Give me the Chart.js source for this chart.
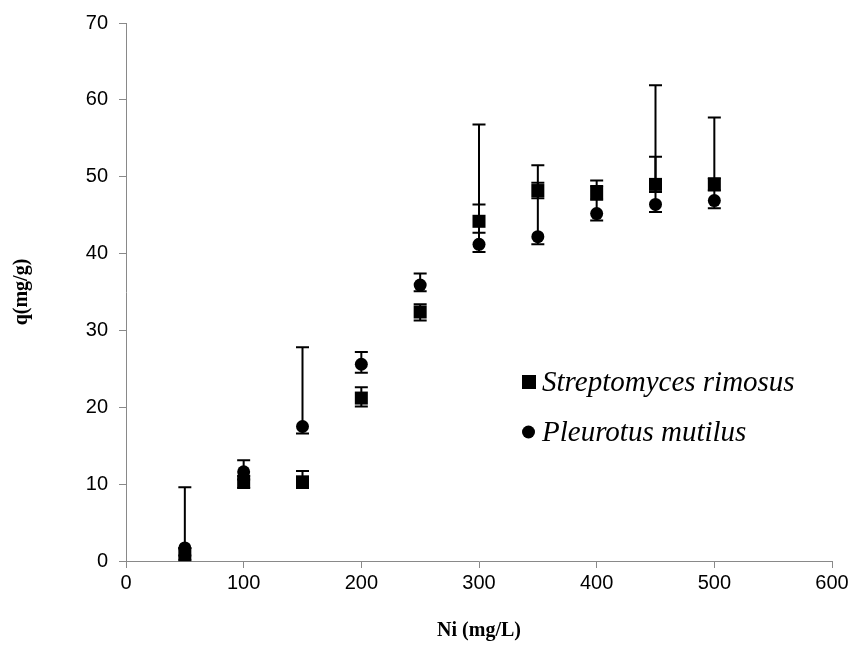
<!DOCTYPE html>
<html>
<head>
<meta charset="utf-8">
<script src="https://cdn.jsdelivr.net/npm/chart.js@4"></script>
<style>
  body { margin: 0; background: #fff; }
  #wrap { width: 858px; height: 648px; }
</style>
</head>
<body>
<div id="wrap"><canvas id="myChart" width="858" height="648"></canvas></div>
<script>
// Ni concentration (mg/L)
const niConc = [50, 100, 150, 200, 250, 300, 350, 400, 450, 500];

// q (mg/g) for each biomass
const strepQ = [0.9, 10.3, 10.3, 21.2, 32.4, 44.2, 48.2, 47.9, 49.0, 49.0];
const pleuQ  = [1.7, 11.6, 17.5, 25.6, 35.9, 41.2, 42.2, 45.2, 46.4, 46.9];

// error bars (plus / minus)
const strepPlus  = [0.8, 0.8, 1.4, 1.4, 1.0, 2.2, 1.0, 0.9, 3.6, 0.8];
const strepMinus = [0.8, 0.8, 0.8, 1.1, 1.1, 1.5, 1.0, 0.9, 1.0, 0.8];
const pleuPlus   = [7.9, 1.5, 10.3, 1.6, 1.5, 15.6, 9.3, 4.3, 15.5, 10.8];
const pleuMinus  = [1.0, 1.0, 0.9, 1.1, 0.8, 1.0, 1.0, 0.9, 1.0, 1.0];

const seriesNames = ['Streptomyces rimosus', 'Pleurotus mutilus'];
const xTicks = [0, 100, 200, 300, 400, 500, 600];
const yTicks = [0, 10, 20, 30, 40, 50, 60, 70];

const axisGrey = '#898989';

const errorBars = {
  id: 'errorBars',
  beforeDatasetsDraw(chart) {
    const { ctx, scales: { x, y } } = chart;
    ctx.save();
    ctx.strokeStyle = '#000';
    ctx.lineWidth = 2;
    chart.data.datasets.forEach(ds => {
      ds.data.forEach((p, i) => {
        const px = x.getPixelForValue(p.x);
        const top = y.getPixelForValue(p.y + ds.errPlus[i]);
        const bot = y.getPixelForValue(p.y - ds.errMinus[i]);
        ctx.beginPath();
        ctx.moveTo(px, top); ctx.lineTo(px, bot);
        ctx.moveTo(px - 6.5, top); ctx.lineTo(px + 6.5, top);
        ctx.moveTo(px - 6.5, bot); ctx.lineTo(px + 6.5, bot);
        ctx.stroke();
      });
    });
    ctx.restore();
  }
};

// legend drawn inside the plot, like the original
const insideLegend = {
  id: 'insideLegend',
  afterDraw(chart) {
    const { ctx } = chart;
    ctx.save();
    ctx.fillStyle = '#000';
    ctx.font = 'italic 29px "Liberation Serif", "Times New Roman", serif';
    ctx.textBaseline = 'alphabetic';
    const rows = [382, 432];
    chart.data.datasets.forEach((ds, i) => {
      const cy = rows[i];
      if (ds.pointStyle === 'rect') {
        ctx.fillRect(522, cy - 7, 14, 14);
      } else {
        ctx.beginPath();
        ctx.arc(528.5, cy, 6.5, 0, Math.PI * 2);
        ctx.fill();
      }
      ctx.fillText(ds.label, 542, cy + 9);
    });
    ctx.restore();
  }
};

const data = {
  datasets: [
    {
      label: seriesNames[0],
      data: niConc.map((v, i) => ({ x: v, y: strepQ[i] })),
      errPlus: strepPlus,
      errMinus: strepMinus,
      pointStyle: 'rect',
      pointRadius: 9.2,
      backgroundColor: '#000',
      borderWidth: 0,
      showLine: false,
    },
    {
      label: seriesNames[1],
      data: niConc.map((v, i) => ({ x: v, y: pleuQ[i] })),
      errPlus: pleuPlus,
      errMinus: pleuMinus,
      pointStyle: 'circle',
      pointRadius: 6.5,
      backgroundColor: '#000',
      borderWidth: 0,
      showLine: false,
    }
  ]
};

const tickFont = { family: '"Liberation Sans", Arial, sans-serif', size: 20 };
const titleFont = { family: '"Liberation Serif", "Times New Roman", serif', size: 20, weight: 'bold' };

const config = {
  type: 'scatter',
  data: data,
  options: {
    responsive: false,
    animation: false,
    layout: { padding: { left: 0, right: 26, top: 19, bottom: 0 } },
    plugins: {
      legend: { display: false },
      tooltip: { enabled: false },
    },
    scales: {
      x: {
        type: 'linear',
        min: 0, max: 600,
        afterBuildTicks: s => { s.ticks = xTicks.map(v => ({ value: v })); },
        afterFit: s => { s.height = 87; },
        grid: { drawOnChartArea: false, drawTicks: true, tickLength: 7, color: axisGrey },
        border: { color: axisGrey, width: 1 },
        ticks: { color: '#000', font: tickFont, padding: 3 },
        title: { display: true, text: 'Ni (mg/L)', color: '#000', font: titleFont, padding: { top: 0, bottom: 5 } },
      },
      y: {
        type: 'linear',
        min: 0, max: 70,
        afterBuildTicks: s => { s.ticks = yTicks.map(v => ({ value: v })); },
        afterFit: s => { s.width = 126; },
        grid: { drawOnChartArea: false, drawTicks: true, tickLength: 7, color: axisGrey },
        border: { color: axisGrey, width: 1 },
        ticks: { color: '#000', font: tickFont, padding: 11 },
        title: { display: true, text: 'q(mg/g)', color: '#000', font: titleFont, padding: { top: 10, bottom: 0 } },
      }
    }
  },
  plugins: [errorBars, insideLegend]
};

const myChart = new Chart(document.getElementById('myChart'), config);
</script>
</body>
</html>
